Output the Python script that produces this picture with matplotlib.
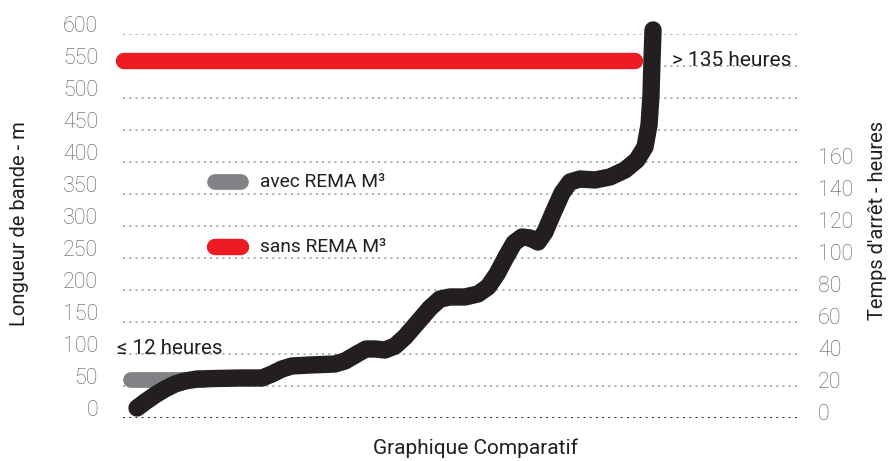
import matplotlib
matplotlib.use("Agg")
import matplotlib.pyplot as plt
import matplotlib.transforms as mtransforms

# ---------------- data ----------------
left_ticks = [0, 50, 100, 150, 200, 250, 300, 350, 400, 450, 500, 550, 600]
right_ticks = [0, 20, 40, 60, 80, 100, 120, 140, 160]
hours_per_metre = 0.4

# black curve (x in arbitrary units 0-100, y in metres)
curve_x = [2.07, 3.25, 4.73, 6.20, 7.68, 9.16, 10.93, 13.59, 17.28, 20.53,
           22.01, 23.49, 24.96, 27.62, 31.31, 32.79, 34.56, 35.89, 37.22, 38.70,
           40.18, 41.65, 43.57, 45.35, 46.82, 48.30, 50.52, 52.44, 53.91, 55.24,
           56.57, 57.75, 58.93, 60.12, 61.30, 62.33, 63.52, 64.85, 66.03, 67.50,
           69.72, 71.94, 74.15, 75.92, 77.10, 77.70, 77.99, 78.14, 78.29]
curve_y = [15.6, 25.0, 35.9, 45.3, 53.1, 57.8, 60.9, 61.7, 62.5, 62.5,
           68.8, 76.6, 81.3, 82.8, 84.4, 89.1, 100.0, 107.8, 107.8, 106.3,
           112.5, 126.6, 150.0, 171.9, 185.9, 189.1, 189.1, 193.8, 204.7, 225.0,
           251.6, 273.4, 282.8, 281.3, 275.0, 290.6, 320.3, 351.6, 368.8, 373.4,
           371.9, 376.6, 387.5, 403.1, 423.4, 457.8, 504.7, 559.4, 606.3]

# reference bars
avec_x = [1.2, 12.0]
avec_y = [59, 59]
sans_x = [0.2, 75.7]
sans_y = [558, 558]

labels = {
    "avec": "avec REMA M³",
    "sans": "sans REMA M³",
    "low": "≤ 12 heures",
    "high": "> 135 heures",
    "ylabel": "Longueur de bande - m",
    "ylabel2": "Temps d'arrêt - heures",
    "xlabel": "Graphique Comparatif",
}

# ---------------- style ----------------
RED = "#ed1c24"
GREY = "#808285"
BLACK = "#231f20"
TICK = "#58595b"
GRID = "#a7a9ac"

plt.rcParams["font.family"] = ["Roboto", "DejaVu Sans"]

fig = plt.figure(figsize=(8.96, 4.61), dpi=100)
W, H = 896, 461
ax = fig.add_axes([123 / W, 1 - 418 / H, (800 - 123) / W, (418 - 34) / H])
ax.set_xlim(0, 100)
ax.set_ylim(0, 600)
for s in ax.spines.values():
    s.set_visible(False)
ax.set_xticks([])
ax.tick_params(axis="y", length=0, pad=18, labelsize=15.5, labelcolor=TICK)
ax.set_yticks(left_ticks)
ax.set_yticklabels([str(t) for t in left_ticks], fontweight="light")
off = mtransforms.ScaledTranslation(0, 10.5 / 100, fig.dpi_scale_trans)
for lab in ax.get_yticklabels():
    lab.set_transform(lab.get_transform() + off)

# grid
for t in left_ticks:
    ax.axhline(t, color=(BLACK if t == 0 else GRID), lw=1.4,
               ls=(0, (1, 2.2)), zorder=1)

# bars and curve
ax.plot(sans_x, sans_y, color=RED, lw=11.8, solid_capstyle="round",
        zorder=3, clip_on=False)
ax.plot(avec_x, avec_y, color=GREY, lw=11.3, solid_capstyle="round",
        zorder=3, clip_on=False)
ax.plot(curve_x, curve_y, color=BLACK, lw=12.5, solid_capstyle="round",
        solid_joinstyle="round", zorder=4, clip_on=False)

# annotations
ax.text(-0.9, 100, labels["low"], fontsize=14.8, color=BLACK, va="baseline",
        ha="left", zorder=5)
ax.text(81.1, 550, labels["high"], fontsize=15, color=BLACK, va="baseline",
        ha="left", zorder=5)

# legend (manual)
lx0, lx1 = (214.5 - 123) / 677 * 100, (240.5 - 123) / 677 * 100
ax.plot([lx0, lx1], [369, 369], color=GREY, lw=11.3, solid_capstyle="round", zorder=3)
ax.plot([lx0, lx1], [267, 267], color=RED, lw=11.8, solid_capstyle="round", zorder=3)
tx = (260 - 123) / 677 * 100
ax.text(tx, 369, labels["avec"], fontsize=13.8, color=BLACK, va="center", ha="left")
ax.text(tx, 267, labels["sans"], fontsize=13.8, color=BLACK, va="center", ha="left")

# right axis
ax2 = ax.twinx()
ax2.set_ylim(0, 600 * hours_per_metre)
for s in ax2.spines.values():
    s.set_visible(False)
ax2.set_yticks(right_ticks)
ax2.set_yticklabels([str(t) for t in right_ticks], fontweight="light")
ax2.tick_params(axis="y", length=0, pad=13, labelsize=15.5, labelcolor=TICK)
off2 = mtransforms.ScaledTranslation(0, 6 / 100, fig.dpi_scale_trans)
for lab in ax2.get_yticklabels():
    lab.set_transform(lab.get_transform() + off2)

# axis titles
fig.text(20 / W, 1 - 224 / H, labels["ylabel"], rotation=90, fontsize=14.5,
         color=BLACK, ha="center", va="center")
fig.text(877 / W, 1 - 220 / H, labels["ylabel2"], rotation=90, fontsize=14.5,
         color=BLACK, ha="center", va="center")
fig.text(475 / W, 1 - 448 / H, labels["xlabel"], fontsize=15,
         color=BLACK, ha="center", va="center")

fig.savefig("out.png", dpi=100)
